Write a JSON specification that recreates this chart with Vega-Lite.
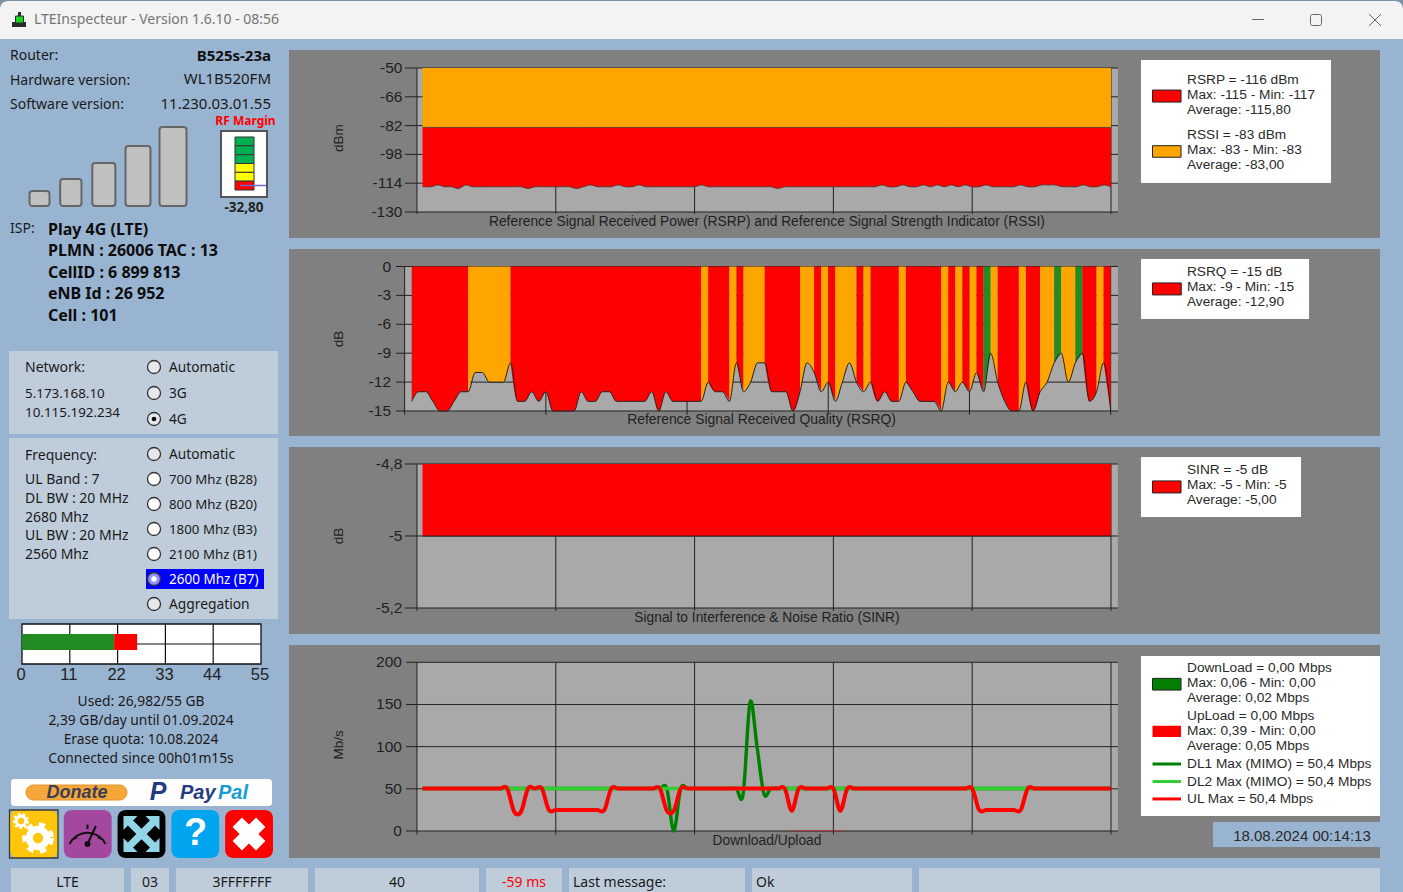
{
"$schema":"https://vega.github.io/schema/vega-lite/v6.json",
"description":"LTEInspecteur window with RSRP, RSRQ, SINR and throughput charts",
"background":"#99b4d1",
"padding":0,
"config":{"view":{"stroke":null},"text":{"font":"Noto Sans"}},
"datasets":{
"unit":[{"k":1}],
"signal":[
{"t":-0.2,"rsrp":-116,"rssi":-83,"sinr":-5},{"t":1,"rsrp":-116,"rssi":-83,"sinr":-5},{"t":2,"rsrp":-115,"rssi":-83,"sinr":-5},{"t":3,"rsrp":-116,"rssi":-83,"sinr":-5},{"t":4,"rsrp":-116,"rssi":-83,"sinr":-5},{"t":5,"rsrp":-117,"rssi":-83,"sinr":-5},{"t":6,"rsrp":-115,"rssi":-83,"sinr":-5},{"t":7,"rsrp":-116,"rssi":-83,"sinr":-5},{"t":8,"rsrp":-116,"rssi":-83,"sinr":-5},{"t":9,"rsrp":-116,"rssi":-83,"sinr":-5},
{"t":10,"rsrp":-116,"rssi":-83,"sinr":-5},{"t":11,"rsrp":-116,"rssi":-83,"sinr":-5},{"t":12,"rsrp":-116,"rssi":-83,"sinr":-5},{"t":13,"rsrp":-116,"rssi":-83,"sinr":-5},{"t":14,"rsrp":-116,"rssi":-83,"sinr":-5},{"t":15,"rsrp":-117,"rssi":-83,"sinr":-5},{"t":16,"rsrp":-116,"rssi":-83,"sinr":-5},{"t":17,"rsrp":-116,"rssi":-83,"sinr":-5},{"t":18,"rsrp":-116,"rssi":-83,"sinr":-5},{"t":19,"rsrp":-116,"rssi":-83,"sinr":-5},
{"t":20,"rsrp":-116,"rssi":-83,"sinr":-5},{"t":21,"rsrp":-116,"rssi":-83,"sinr":-5},{"t":22,"rsrp":-117,"rssi":-83,"sinr":-5},{"t":23,"rsrp":-116,"rssi":-83,"sinr":-5},{"t":24,"rsrp":-115,"rssi":-83,"sinr":-5},{"t":25,"rsrp":-116,"rssi":-83,"sinr":-5},{"t":26,"rsrp":-116,"rssi":-83,"sinr":-5},{"t":27,"rsrp":-116,"rssi":-83,"sinr":-5},{"t":28,"rsrp":-115,"rssi":-83,"sinr":-5},{"t":29,"rsrp":-116,"rssi":-83,"sinr":-5},
{"t":30,"rsrp":-116,"rssi":-83,"sinr":-5},{"t":31,"rsrp":-115,"rssi":-83,"sinr":-5},{"t":32,"rsrp":-116,"rssi":-83,"sinr":-5},{"t":33,"rsrp":-116,"rssi":-83,"sinr":-5},{"t":34,"rsrp":-116,"rssi":-83,"sinr":-5},{"t":35,"rsrp":-116,"rssi":-83,"sinr":-5},{"t":36,"rsrp":-116,"rssi":-83,"sinr":-5},{"t":37,"rsrp":-116,"rssi":-83,"sinr":-5},{"t":38,"rsrp":-116,"rssi":-83,"sinr":-5},{"t":39,"rsrp":-116,"rssi":-83,"sinr":-5},
{"t":40,"rsrp":-115,"rssi":-83,"sinr":-5},{"t":41,"rsrp":-116,"rssi":-83,"sinr":-5},{"t":42,"rsrp":-116,"rssi":-83,"sinr":-5},{"t":43,"rsrp":-116,"rssi":-83,"sinr":-5},{"t":44,"rsrp":-116,"rssi":-83,"sinr":-5},{"t":45,"rsrp":-116,"rssi":-83,"sinr":-5},{"t":46,"rsrp":-116,"rssi":-83,"sinr":-5},{"t":47,"rsrp":-116,"rssi":-83,"sinr":-5},{"t":48,"rsrp":-116,"rssi":-83,"sinr":-5},{"t":49,"rsrp":-116,"rssi":-83,"sinr":-5},
{"t":50,"rsrp":-116,"rssi":-83,"sinr":-5},{"t":51,"rsrp":-117,"rssi":-83,"sinr":-5},{"t":52,"rsrp":-116,"rssi":-83,"sinr":-5},{"t":53,"rsrp":-116,"rssi":-83,"sinr":-5},{"t":54,"rsrp":-116,"rssi":-83,"sinr":-5},{"t":55,"rsrp":-116,"rssi":-83,"sinr":-5},{"t":56,"rsrp":-116,"rssi":-83,"sinr":-5},{"t":57,"rsrp":-116,"rssi":-83,"sinr":-5},{"t":58,"rsrp":-116,"rssi":-83,"sinr":-5},{"t":59,"rsrp":-116,"rssi":-83,"sinr":-5},
{"t":60,"rsrp":-116,"rssi":-83,"sinr":-5},{"t":61,"rsrp":-116,"rssi":-83,"sinr":-5},{"t":62,"rsrp":-116,"rssi":-83,"sinr":-5},{"t":63,"rsrp":-116,"rssi":-83,"sinr":-5},{"t":64,"rsrp":-116,"rssi":-83,"sinr":-5},{"t":65,"rsrp":-116,"rssi":-83,"sinr":-5},{"t":66,"rsrp":-115,"rssi":-83,"sinr":-5},{"t":67,"rsrp":-116,"rssi":-83,"sinr":-5},{"t":68,"rsrp":-116,"rssi":-83,"sinr":-5},{"t":69,"rsrp":-115,"rssi":-83,"sinr":-5},
{"t":70,"rsrp":-116,"rssi":-83,"sinr":-5},{"t":71,"rsrp":-116,"rssi":-83,"sinr":-5},{"t":72,"rsrp":-115,"rssi":-83,"sinr":-5},{"t":73,"rsrp":-116,"rssi":-83,"sinr":-5},{"t":74,"rsrp":-115,"rssi":-83,"sinr":-5},{"t":75,"rsrp":-116,"rssi":-83,"sinr":-5},{"t":76,"rsrp":-115,"rssi":-83,"sinr":-5},{"t":77,"rsrp":-116,"rssi":-83,"sinr":-5},{"t":78,"rsrp":-115,"rssi":-83,"sinr":-5},{"t":79,"rsrp":-116,"rssi":-83,"sinr":-5},
{"t":80,"rsrp":-116,"rssi":-83,"sinr":-5},{"t":81,"rsrp":-115,"rssi":-83,"sinr":-5},{"t":82,"rsrp":-116,"rssi":-83,"sinr":-5},{"t":83,"rsrp":-116,"rssi":-83,"sinr":-5},{"t":84,"rsrp":-116,"rssi":-83,"sinr":-5},{"t":85,"rsrp":-116,"rssi":-83,"sinr":-5},{"t":86,"rsrp":-115,"rssi":-83,"sinr":-5},{"t":87,"rsrp":-116,"rssi":-83,"sinr":-5},{"t":88,"rsrp":-116,"rssi":-83,"sinr":-5},{"t":89,"rsrp":-115,"rssi":-83,"sinr":-5},
{"t":90,"rsrp":-115,"rssi":-83,"sinr":-5},{"t":91,"rsrp":-115,"rssi":-83,"sinr":-5},{"t":92,"rsrp":-116,"rssi":-83,"sinr":-5},{"t":93,"rsrp":-116,"rssi":-83,"sinr":-5},{"t":94,"rsrp":-116,"rssi":-83,"sinr":-5},{"t":95,"rsrp":-115,"rssi":-83,"sinr":-5},{"t":96,"rsrp":-116,"rssi":-83,"sinr":-5},{"t":97,"rsrp":-116,"rssi":-83,"sinr":-5},{"t":98,"rsrp":-115,"rssi":-83,"sinr":-5},{"t":99,"rsrp":-116,"rssi":-83,"sinr":-5}
],
"rsrq":[
{"t":0,"rsrq":-14},{"t":1,"rsrq":-13},{"t":2,"rsrq":-13},{"t":3,"rsrq":-14},{"t":4,"rsrq":-15},{"t":5,"rsrq":-15},{"t":6,"rsrq":-14},{"t":7,"rsrq":-13},{"t":8,"rsrq":-13},{"t":9,"rsrq":-11},
{"t":10,"rsrq":-11},{"t":11,"rsrq":-12},{"t":12,"rsrq":-12},{"t":13,"rsrq":-12},{"t":14,"rsrq":-10},{"t":15,"rsrq":-14},{"t":16,"rsrq":-14},{"t":17,"rsrq":-13},{"t":18,"rsrq":-14},{"t":19,"rsrq":-13},
{"t":20,"rsrq":-15},{"t":21,"rsrq":-15},{"t":22,"rsrq":-15},{"t":23,"rsrq":-15},{"t":24,"rsrq":-13},{"t":25,"rsrq":-14},{"t":26,"rsrq":-14},{"t":27,"rsrq":-13},{"t":28,"rsrq":-13},{"t":29,"rsrq":-14},
{"t":30,"rsrq":-14},{"t":31,"rsrq":-14},{"t":32,"rsrq":-14},{"t":33,"rsrq":-14},{"t":34,"rsrq":-13},{"t":35,"rsrq":-15},{"t":36,"rsrq":-13},{"t":37,"rsrq":-14},{"t":38,"rsrq":-14},{"t":39,"rsrq":-14},
{"t":40,"rsrq":-14},{"t":41,"rsrq":-14},{"t":42,"rsrq":-12},{"t":43,"rsrq":-13},{"t":44,"rsrq":-13},{"t":45,"rsrq":-14},{"t":46,"rsrq":-10},{"t":47,"rsrq":-13},{"t":48,"rsrq":-12},{"t":49,"rsrq":-10},
{"t":50,"rsrq":-10},{"t":51,"rsrq":-13},{"t":52,"rsrq":-13},{"t":53,"rsrq":-13},{"t":54,"rsrq":-15},{"t":55,"rsrq":-13},{"t":56,"rsrq":-10},{"t":57,"rsrq":-11},{"t":58,"rsrq":-13},{"t":59,"rsrq":-12},
{"t":60,"rsrq":-14},{"t":61,"rsrq":-12},{"t":62,"rsrq":-10},{"t":63,"rsrq":-12},{"t":64,"rsrq":-13},{"t":65,"rsrq":-12},{"t":66,"rsrq":-14},{"t":67,"rsrq":-13},{"t":68,"rsrq":-14},{"t":69,"rsrq":-14},
{"t":70,"rsrq":-12},{"t":71,"rsrq":-13},{"t":72,"rsrq":-14},{"t":73,"rsrq":-14},{"t":74,"rsrq":-14},{"t":75,"rsrq":-15},{"t":76,"rsrq":-12},{"t":77,"rsrq":-13},{"t":78,"rsrq":-12},{"t":79,"rsrq":-13},
{"t":80,"rsrq":-11},{"t":81,"rsrq":-13},{"t":82,"rsrq":-9},{"t":83,"rsrq":-12},{"t":84,"rsrq":-14},{"t":85,"rsrq":-15},{"t":86,"rsrq":-15},{"t":87,"rsrq":-12},{"t":88,"rsrq":-15},{"t":89,"rsrq":-13},
{"t":90,"rsrq":-12},{"t":91,"rsrq":-10},{"t":92,"rsrq":-9},{"t":93,"rsrq":-12},{"t":94,"rsrq":-10},{"t":95,"rsrq":-9},{"t":96,"rsrq":-14},{"t":97,"rsrq":-13},{"t":98,"rsrq":-10},{"t":99,"rsrq":-15}
],
"rsrqBands":[
{"band":1,"grade":"poor","t":[0,1,2,3,4,5,6,7,8],"rsrq":[-14,-13,-13,-14,-15,-15,-14,-13,-13]},
{"band":2,"grade":"fair","t":[8,9,10,11,12,13,14],"rsrq":[-13,-11,-11,-12,-12,-12,-10]},
{"band":3,"grade":"poor","t":[14,15,16,17,18,19,20,21,22,23,24,25,26,27,28,29,30,31,32,33,34,35,36,37,38,39,40,41],"rsrq":[-10,-14,-14,-13,-14,-13,-15,-15,-15,-15,-13,-14,-14,-13,-13,-14,-14,-14,-14,-14,-13,-15,-13,-14,-14,-14,-14,-14]},
{"band":4,"grade":"fair","t":[41,42],"rsrq":[-14,-12]},
{"band":5,"grade":"poor","t":[42,43,44,45],"rsrq":[-12,-13,-13,-14]},
{"band":6,"grade":"fair","t":[45,46],"rsrq":[-14,-10]},
{"band":7,"grade":"poor","t":[46,47],"rsrq":[-10,-13]},
{"band":8,"grade":"fair","t":[47,48,49,50],"rsrq":[-13,-12,-10,-10]},
{"band":9,"grade":"poor","t":[50,51,52,53,54,55],"rsrq":[-10,-13,-13,-13,-15,-13]},
{"band":10,"grade":"fair","t":[55,56,57],"rsrq":[-13,-10,-11]},
{"band":11,"grade":"poor","t":[57,58],"rsrq":[-11,-13]},
{"band":12,"grade":"fair","t":[58,59],"rsrq":[-13,-12]},
{"band":13,"grade":"poor","t":[59,60],"rsrq":[-12,-14]},
{"band":14,"grade":"fair","t":[60,61,62,63],"rsrq":[-14,-12,-10,-12]},
{"band":15,"grade":"poor","t":[63,64],"rsrq":[-12,-13]},
{"band":16,"grade":"fair","t":[64,65],"rsrq":[-13,-12]},
{"band":17,"grade":"poor","t":[65,66,67,68,69],"rsrq":[-12,-14,-13,-14,-14]},
{"band":18,"grade":"fair","t":[69,70],"rsrq":[-14,-12]},
{"band":19,"grade":"poor","t":[70,71,72,73,74,75],"rsrq":[-12,-13,-14,-14,-14,-15]},
{"band":20,"grade":"fair","t":[75,76],"rsrq":[-15,-12]},
{"band":21,"grade":"poor","t":[76,77],"rsrq":[-12,-13]},
{"band":22,"grade":"fair","t":[77,78],"rsrq":[-13,-12]},
{"band":23,"grade":"poor","t":[78,79],"rsrq":[-12,-13]},
{"band":24,"grade":"fair","t":[79,80],"rsrq":[-13,-11]},
{"band":25,"grade":"poor","t":[80,81],"rsrq":[-11,-13]},
{"band":26,"grade":"good","t":[81,82],"rsrq":[-13,-9]},
{"band":27,"grade":"fair","t":[82,83],"rsrq":[-9,-12]},
{"band":28,"grade":"poor","t":[83,84,85,86],"rsrq":[-12,-14,-15,-15]},
{"band":29,"grade":"fair","t":[86,87],"rsrq":[-15,-12]},
{"band":30,"grade":"poor","t":[87,88,89],"rsrq":[-12,-15,-13]},
{"band":31,"grade":"fair","t":[89,90,91],"rsrq":[-13,-12,-10]},
{"band":32,"grade":"good","t":[91,92],"rsrq":[-10,-9]},
{"band":33,"grade":"fair","t":[92,93,94],"rsrq":[-9,-12,-10]},
{"band":34,"grade":"good","t":[94,95],"rsrq":[-10,-9]},
{"band":35,"grade":"poor","t":[95,96,97],"rsrq":[-9,-14,-13]},
{"band":36,"grade":"fair","t":[97,98],"rsrq":[-13,-10]},
{"band":37,"grade":"poor","t":[98,99],"rsrq":[-10,-15]}
],
"traffic":[
{"t":-0.2,"dl1":50.4,"dl2":50.4,"ul":50.4},{"t":1,"dl1":50.4,"dl2":50.4,"ul":50.4},{"t":2,"dl1":50.4,"dl2":50.4,"ul":50.4},{"t":3,"dl1":50.4,"dl2":50.4,"ul":50.4},{"t":4,"dl1":50.4,"dl2":50.4,"ul":50.4},{"t":5,"dl1":50.4,"dl2":50.4,"ul":50.4},{"t":6,"dl1":50.4,"dl2":50.4,"ul":50.4},{"t":7,"dl1":50.4,"dl2":50.4,"ul":50.4},{"t":8,"dl1":50.4,"dl2":50.4,"ul":50.4},{"t":9,"dl1":50.4,"dl2":50.4,"ul":50.4},
{"t":10,"dl1":50.4,"dl2":50.4,"ul":50.4},{"t":11,"dl1":50.4,"dl2":50.4,"ul":50.4},{"t":12,"dl1":50.4,"dl2":50.4,"ul":50.4},{"t":13,"dl1":50.4,"dl2":50.4,"ul":23},{"t":14,"dl1":50.4,"dl2":50.4,"ul":23},{"t":15,"dl1":50.4,"dl2":50.4,"ul":50.4},{"t":16,"dl1":50.4,"dl2":50.4,"ul":50.4},{"t":17,"dl1":50.4,"dl2":50.4,"ul":50.4},{"t":18,"dl1":50.4,"dl2":50.4,"ul":25},{"t":19,"dl1":50.4,"dl2":50.4,"ul":25},
{"t":20,"dl1":50.4,"dl2":50.4,"ul":25},{"t":21,"dl1":50.4,"dl2":50.4,"ul":25},{"t":22,"dl1":50.4,"dl2":50.4,"ul":25},{"t":23,"dl1":50.4,"dl2":50.4,"ul":25},{"t":24,"dl1":50.4,"dl2":50.4,"ul":25},{"t":25,"dl1":50.4,"dl2":50.4,"ul":25},{"t":26,"dl1":50.4,"dl2":50.4,"ul":25},{"t":27,"dl1":50.4,"dl2":50.4,"ul":50.4},{"t":28,"dl1":50.4,"dl2":50.4,"ul":50.4},{"t":29,"dl1":50.4,"dl2":50.4,"ul":50.4},
{"t":30,"dl1":50.4,"dl2":50.4,"ul":50.4},{"t":31,"dl1":50.4,"dl2":50.4,"ul":50.4},{"t":32,"dl1":50.4,"dl2":50.4,"ul":50.4},{"t":33,"dl1":50.4,"dl2":50.4,"ul":50.4},{"t":34,"dl1":50.4,"dl2":50.4,"ul":50.4},{"t":35,"dl1":50.4,"dl2":50.4,"ul":24},{"t":36,"dl1":0,"dl2":50.4,"ul":24},{"t":37,"dl1":50.4,"dl2":50.4,"ul":50.4},{"t":38,"dl1":50.4,"dl2":50.4,"ul":50.4},{"t":39,"dl1":50.4,"dl2":50.4,"ul":50.4},
{"t":40,"dl1":50.4,"dl2":50.4,"ul":50.4},{"t":41,"dl1":50.4,"dl2":50.4,"ul":50.4},{"t":42,"dl1":50.4,"dl2":50.4,"ul":50.4},{"t":43,"dl1":50.4,"dl2":50.4,"ul":50.4},{"t":44,"dl1":50.4,"dl2":50.4,"ul":50.4},{"t":45,"dl1":50.4,"dl2":50.4,"ul":50.4},{"t":46,"dl1":44,"dl2":50.4,"ul":50.4},{"t":47,"dl1":153,"dl2":50.4,"ul":50.4},{"t":48,"dl1":100,"dl2":50.4,"ul":50.4},{"t":49,"dl1":44,"dl2":50.4,"ul":50.4},
{"t":50,"dl1":50.4,"dl2":50.4,"ul":50.4},{"t":51,"dl1":50.4,"dl2":50.4,"ul":50.4},{"t":52,"dl1":50.4,"dl2":50.4,"ul":50.4},{"t":53,"dl1":50.4,"dl2":50.4,"ul":24},{"t":54,"dl1":50.4,"dl2":50.4,"ul":50.4},{"t":55,"dl1":50.4,"dl2":50.4,"ul":50.4},{"t":56,"dl1":50.4,"dl2":50.4,"ul":50.4},{"t":57,"dl1":50.4,"dl2":50.4,"ul":50.4},{"t":58,"dl1":50.4,"dl2":50.4,"ul":50.4},{"t":59,"dl1":50.4,"dl2":50.4,"ul":50.4},
{"t":60,"dl1":50.4,"dl2":50.4,"ul":24},{"t":61,"dl1":50.4,"dl2":50.4,"ul":50.4},{"t":62,"dl1":50.4,"dl2":50.4,"ul":50.4},{"t":63,"dl1":50.4,"dl2":50.4,"ul":50.4},{"t":64,"dl1":50.4,"dl2":50.4,"ul":50.4},{"t":65,"dl1":50.4,"dl2":50.4,"ul":50.4},{"t":66,"dl1":50.4,"dl2":50.4,"ul":50.4},{"t":67,"dl1":50.4,"dl2":50.4,"ul":50.4},{"t":68,"dl1":50.4,"dl2":50.4,"ul":50.4},{"t":69,"dl1":50.4,"dl2":50.4,"ul":50.4},
{"t":70,"dl1":50.4,"dl2":50.4,"ul":50.4},{"t":71,"dl1":50.4,"dl2":50.4,"ul":50.4},{"t":72,"dl1":50.4,"dl2":50.4,"ul":50.4},{"t":73,"dl1":50.4,"dl2":50.4,"ul":50.4},{"t":74,"dl1":50.4,"dl2":50.4,"ul":50.4},{"t":75,"dl1":50.4,"dl2":50.4,"ul":50.4},{"t":76,"dl1":50.4,"dl2":50.4,"ul":50.4},{"t":77,"dl1":50.4,"dl2":50.4,"ul":50.4},{"t":78,"dl1":50.4,"dl2":50.4,"ul":50.4},{"t":79,"dl1":50.4,"dl2":50.4,"ul":50.4},
{"t":80,"dl1":50.4,"dl2":50.4,"ul":25},{"t":81,"dl1":50.4,"dl2":50.4,"ul":25},{"t":82,"dl1":50.4,"dl2":50.4,"ul":25},{"t":83,"dl1":50.4,"dl2":50.4,"ul":25},{"t":84,"dl1":50.4,"dl2":50.4,"ul":25},{"t":85,"dl1":50.4,"dl2":50.4,"ul":25},{"t":86,"dl1":50.4,"dl2":50.4,"ul":25},{"t":87,"dl1":50.4,"dl2":50.4,"ul":50.4},{"t":88,"dl1":50.4,"dl2":50.4,"ul":50.4},{"t":89,"dl1":50.4,"dl2":50.4,"ul":50.4},
{"t":90,"dl1":50.4,"dl2":50.4,"ul":50.4},{"t":91,"dl1":50.4,"dl2":50.4,"ul":50.4},{"t":92,"dl1":50.4,"dl2":50.4,"ul":50.4},{"t":93,"dl1":50.4,"dl2":50.4,"ul":50.4},{"t":94,"dl1":50.4,"dl2":50.4,"ul":50.4},{"t":95,"dl1":50.4,"dl2":50.4,"ul":50.4},{"t":96,"dl1":50.4,"dl2":50.4,"ul":50.4},{"t":97,"dl1":50.4,"dl2":50.4,"ul":50.4},{"t":98,"dl1":50.4,"dl2":50.4,"ul":50.4},{"t":99,"dl1":50.4,"dl2":50.4,"ul":50.4}
],
"gridTimes":[{"t":-1},{"t":19},{"t":39},{"t":59},{"t":79},{"t":99}]
},
"spacing":5,
"vconcat":[
{"width":1403,"height":42,
"layer":[
{"data":{"name":"unit"},"mark":{"type":"rect","fill":"#7d93a8"},"encoding":{"x":{"datum":0,"type":"quantitative","axis":null,"scale":{"domain":[0,1403],"nice":false}},"x2":{"datum":1403},"y":{"datum":0,"type":"quantitative","axis":null,"scale":{"domain":[0,42],"range":[0,42],"nice":false}},"y2":{"datum":12}}},
{"data":{"name":"unit"},"mark":{"type":"rect","fill":"#f3f3f3","cornerRadiusTopRight":8,"cornerRadiusTopLeft":8},"encoding":{"x":{"datum":0,"type":"quantitative","axis":null},"x2":{"datum":1403},"y":{"datum":1,"type":"quantitative","axis":null},"y2":{"datum":39}}},
{"data":{"name":"unit"},"mark":{"type":"rect","fill":"#2b2b2b"},"encoding":{"x":{"datum":12,"type":"quantitative","axis":null},"x2":{"datum":26},"y":{"datum":22,"type":"quantitative","axis":null},"y2":{"datum":27}}},
{"data":{"name":"unit"},"mark":{"type":"rect","fill":"#2b2b2b"},"encoding":{"x":{"datum":18,"type":"quantitative","axis":null},"x2":{"datum":21},"y":{"datum":12,"type":"quantitative","axis":null},"y2":{"datum":17}}},
{"data":{"name":"unit"},"mark":{"type":"rect","fill":"#19d419","stroke":"#2b2b2b"},"encoding":{"x":{"datum":15.5,"type":"quantitative","axis":null},"x2":{"datum":23.5},"y":{"datum":16,"type":"quantitative","axis":null},"y2":{"datum":23}}},
{"data":{"values":[{"label":"LTEInspecteur - Version 1.6.10 - 08:56"}]},"mark":{"type":"text","align":"left","fontSize":14,"color":"#747474"},"encoding":{"x":{"datum":34,"type":"quantitative","axis":null},"y":{"datum":20,"type":"quantitative","axis":null},"text":{"field":"label"}}},
{"data":{"name":"unit"},"mark":{"type":"rule","stroke":"#666666"},"encoding":{"x":{"datum":1252,"type":"quantitative","axis":null},"x2":{"datum":1264},"y":{"datum":19.5,"type":"quantitative","axis":null}}},
{"data":{"name":"unit"},"mark":{"type":"rect","filled":false,"stroke":"#666666","cornerRadius":2},"encoding":{"x":{"datum":1310.5,"type":"quantitative","axis":null},"x2":{"datum":1321.5},"y":{"datum":14.5,"type":"quantitative","axis":null},"y2":{"datum":25.5}}},
{"data":{"name":"unit"},"mark":{"type":"rule","stroke":"#666666"},"encoding":{"x":{"datum":1369,"type":"quantitative","axis":null},"x2":{"datum":1381},"y":{"datum":14,"type":"quantitative","axis":null},"y2":{"datum":26}}},
{"data":{"name":"unit"},"mark":{"type":"rule","stroke":"#666666"},"encoding":{"x":{"datum":1369,"type":"quantitative","axis":null},"x2":{"datum":1381},"y":{"datum":26,"type":"quantitative","axis":null},"y2":{"datum":14}}}
]},
{"spacing":11,"hconcat":[
{"width":278,"height":808,
"resolve":{"scale":{"x":"independent","y":"independent","color":"independent","size":"independent","fill":"independent"}},
"layer":[
{"data":{"name":"unit"},"mark":{"type":"rect","fill":"#99b4d1","opacity":0},"encoding":{"x":{"datum":1,"type":"quantitative","axis":null,"scale":{"domain":[0,278],"nice":false}},"x2":{"datum":2},"y":{"datum":-3,"type":"quantitative","axis":null,"scale":{"domain":[0,808],"range":[0,808],"nice":false}},"y2":{"datum":811}}},
{"data":{"values":[{"label":"Router:"},{"label":"Hardware version:"},{"label":"Software version:"}]},"mark":{"type":"text","align":"left","fontSize":14,"color":"#1a1a1a"},"encoding":{"x":{"datum":10,"type":"quantitative","axis":null,"scale":{"domain":[0,278],"nice":false}},"y":{"field":"label","type":"nominal","sort":null,"axis":null,"scale":{"type":"point","padding":0,"range":[6,55]}},"text":{"field":"label"}}},
{"data":{"values":[{"label":"B525s-23a"}]},"mark":{"type":"text","align":"right","fontSize":15,"fontWeight":"bold","color":"#111111"},"encoding":{"x":{"datum":271,"type":"quantitative","axis":null,"scale":{"domain":[0,278],"nice":false}},"y":{"field":"label","type":"nominal","axis":null,"scale":{"type":"point","padding":0,"range":[5.5,5.5]}},"text":{"field":"label"}}},
{"data":{"values":[{"label":"WL1B520FM"},{"label":"11.230.03.01.55"}]},"mark":{"type":"text","align":"right","fontSize":15,"color":"#1a1a1a"},"encoding":{"x":{"datum":271,"type":"quantitative","axis":null,"scale":{"domain":[0,278],"nice":false}},"y":{"field":"label","type":"nominal","sort":null,"axis":null,"scale":{"type":"point","padding":0,"range":[29,54]}},"text":{"field":"label"}}},
{"data":{"values":[{"bar":1,"level":15},{"bar":2,"level":27},{"bar":3,"level":43},{"bar":4,"level":60},{"bar":5,"level":79}]},"mark":{"type":"bar","orient":"vertical","fill":"#c0c0c0","stroke":"#666666","strokeWidth":2,"cornerRadius":3},"encoding":{"x":{"field":"bar","type":"quantitative","axis":null,"scale":{"type":"pow","exponent":1.1,"domain":[1,5],"range":[39.5,173],"nice":false,"padding":0}},"y":{"field":"level","type":"quantitative","axis":null,"scale":{"domain":[0,79],"range":[156,77],"nice":false}},"size":{"field":"level","type":"quantitative","legend":null,"scale":{"domain":[15,79],"range":[20,27],"zero":false}}}},
{"data":{"values":[{"label":"RF Margin"}]},"mark":{"type":"text","fontSize":12,"fontWeight":"bold","color":"#ff0000"},"encoding":{"x":{"datum":245.5,"type":"quantitative","axis":null,"scale":{"domain":[0,278],"nice":false}},"y":{"field":"label","type":"nominal","axis":null,"scale":{"type":"point","padding":0,"range":[71,71]}},"text":{"field":"label"}}},
{"data":{"name":"unit"},"mark":{"type":"rect","fill":"#ffffff","stroke":"#555555","strokeWidth":2},"encoding":{"x":{"datum":221,"type":"quantitative","axis":null,"scale":{"domain":[0,278],"nice":false}},"x2":{"datum":267},"y":{"datum":81,"type":"quantitative","axis":null,"scale":{"domain":[0,808],"range":[0,808],"nice":false}},"y2":{"datum":147}}},
{"data":{"values":[{"cell":1,"grade":"good"},{"cell":2,"grade":"good"},{"cell":3,"grade":"good"},{"cell":4,"grade":"fair"},{"cell":5,"grade":"fair"},{"cell":6,"grade":"poor"}]},"mark":{"type":"rect","stroke":"#333333"},"encoding":{"x":{"datum":235,"type":"quantitative","axis":null,"scale":{"domain":[0,278],"nice":false}},"x2":{"datum":254},"y":{"field":"cell","type":"ordinal","axis":null,"scale":{"type":"band","padding":0,"range":[87,140]}},"color":{"field":"grade","type":"nominal","legend":null,"scale":{"domain":["good","fair","poor"],"range":["#00b050","#ffff00","#ff0000"]}}}},
{"data":{"name":"unit"},"mark":{"type":"rule","stroke":"#6a6ad0","strokeWidth":1.5},"encoding":{"x":{"datum":240,"type":"quantitative","axis":null,"scale":{"domain":[0,278],"nice":false}},"x2":{"datum":266},"y":{"datum":135.5,"type":"quantitative","axis":null,"scale":{"domain":[0,808],"range":[0,808],"nice":false}}}},
{"data":{"values":[{"label":"-32,80"}]},"mark":{"type":"text","fontSize":13.5,"fontWeight":"bold","color":"#222222"},"encoding":{"x":{"datum":244,"type":"quantitative","axis":null,"scale":{"domain":[0,278],"nice":false}},"y":{"field":"label","type":"nominal","axis":null,"scale":{"type":"point","padding":0,"range":[158,158]}},"text":{"field":"label"}}},
{"data":{"values":[{"label":"ISP:"}]},"mark":{"type":"text","align":"left","fontSize":14,"color":"#1a1a1a"},"encoding":{"x":{"datum":10,"type":"quantitative","axis":null,"scale":{"domain":[0,278],"nice":false}},"y":{"field":"label","type":"nominal","axis":null,"scale":{"type":"point","padding":0,"range":[179,179]}},"text":{"field":"label"}}},
{"data":{"values":[{"label":"Play 4G (LTE)"},{"label":"PLMN : 26006 TAC : 13"},{"label":"CellID : 6 899 813"},{"label":"eNB Id : 26 952"},{"label":"Cell : 101"}]},"mark":{"type":"text","align":"left","fontSize":16,"fontWeight":"bold","color":"#0d0d0d"},"encoding":{"x":{"datum":48,"type":"quantitative","axis":null,"scale":{"domain":[0,278],"nice":false}},"y":{"field":"label","type":"nominal","sort":null,"axis":null,"scale":{"type":"point","padding":0,"range":[180,265.5]}},"text":{"field":"label"}}},
{"data":{"name":"unit"},"mark":{"type":"rect","fill":"#bfcddb"},"encoding":{"x":{"datum":9,"type":"quantitative","axis":null,"scale":{"domain":[0,278],"nice":false}},"x2":{"datum":278},"y":{"datum":301,"type":"quantitative","axis":null,"scale":{"domain":[0,808],"range":[0,808],"nice":false}},"y2":{"datum":384}}},
{"data":{"name":"unit"},"mark":{"type":"rect","fill":"#bfcddb"},"encoding":{"x":{"datum":9,"type":"quantitative","axis":null,"scale":{"domain":[0,278],"nice":false}},"x2":{"datum":278},"y":{"datum":388,"type":"quantitative","axis":null,"scale":{"domain":[0,808],"range":[0,808],"nice":false}},"y2":{"datum":569}}},
{"data":{"values":[{"label":"Network:"},{"label":"Frequency:"}]},"mark":{"type":"text","align":"left","fontSize":14,"color":"#1a1a1a"},"encoding":{"x":{"datum":25,"type":"quantitative","axis":null,"scale":{"domain":[0,278],"nice":false}},"y":{"field":"label","type":"nominal","sort":null,"axis":null,"scale":{"type":"point","padding":0,"range":[318,406]}},"text":{"field":"label"}}},
{"data":{"values":[{"label":"5.173.168.10"},{"label":"10.115.192.234"}]},"mark":{"type":"text","align":"left","fontSize":13.4,"color":"#1a1a1a"},"encoding":{"x":{"datum":25,"type":"quantitative","axis":null,"scale":{"domain":[0,278],"nice":false}},"y":{"field":"label","type":"nominal","sort":null,"axis":null,"scale":{"type":"point","padding":0,"range":[344,363]}},"text":{"field":"label"}}},
{"data":{"values":[{"label":"UL Band : 7"},{"label":"DL BW : 20 MHz"},{"label":"2680 Mhz"},{"label":"UL BW : 20 MHz"},{"label":"2560 Mhz"}]},"mark":{"type":"text","align":"left","fontSize":14,"color":"#1a1a1a"},"encoding":{"x":{"datum":25,"type":"quantitative","axis":null,"scale":{"domain":[0,278],"nice":false}},"y":{"field":"label","type":"nominal","sort":null,"axis":null,"scale":{"type":"point","padding":0,"range":[430,505]}},"text":{"field":"label"}}},
{"data":{"values":[{"option":"Automatic","state":"off"},{"option":"3G","state":"off"},{"option":"4G","state":"off"}]},"mark":{"type":"point","shape":"circle","filled":true,"size":170,"opacity":1,"stroke":"#333333","strokeWidth":1.3},"encoding":{"x":{"datum":154,"type":"quantitative","axis":null,"scale":{"domain":[0,278],"nice":false}},"y":{"field":"option","type":"nominal","sort":null,"axis":null,"scale":{"type":"point","padding":0,"range":[317,369]}},"fill":{"field":"state","type":"nominal","legend":null,"scale":{"domain":["off","on","picked"],"range":["#e6e8eb","#ffffff","#8f8fff"]}}}},
{"data":{"values":[{"option":"4G"}]},"mark":{"type":"point","shape":"circle","filled":true,"size":22,"opacity":1,"color":"#111111"},"encoding":{"x":{"datum":154,"type":"quantitative","axis":null,"scale":{"domain":[0,278],"nice":false}},"y":{"field":"option","type":"nominal","axis":null,"scale":{"type":"point","padding":0,"range":[369,369]}}}},
{"data":{"values":[{"option":"Automatic"},{"option":"3G"},{"option":"4G"}]},"mark":{"type":"text","align":"left","fontSize":13.7,"color":"#1a1a1a"},"encoding":{"x":{"datum":169,"type":"quantitative","axis":null,"scale":{"domain":[0,278],"nice":false}},"y":{"field":"option","type":"nominal","sort":null,"axis":null,"scale":{"type":"point","padding":0,"range":[318,370]}},"text":{"field":"option"}}},
{"data":{"name":"unit"},"mark":{"type":"rect","fill":"#0000ff"},"encoding":{"x":{"datum":146,"type":"quantitative","axis":null,"scale":{"domain":[0,278],"nice":false}},"x2":{"datum":264},"y":{"datum":519,"type":"quantitative","axis":null,"scale":{"domain":[0,808],"range":[0,808],"nice":false}},"y2":{"datum":539}}},
{"data":{"values":[{"option":"Automatic","state":"off"},{"option":"700 Mhz (B28)","state":"on"},{"option":"800 Mhz (B20)","state":"on"},{"option":"1800 Mhz (B3)","state":"on"},{"option":"2100 Mhz (B1)","state":"on"},{"option":"2600 Mhz (B7)","state":"picked"},{"option":"Aggregation","state":"off"}]},"mark":{"type":"point","shape":"circle","filled":true,"size":170,"opacity":1,"stroke":"#333333","strokeWidth":1.3},"encoding":{"x":{"datum":154,"type":"quantitative","axis":null,"scale":{"domain":[0,278],"nice":false}},"y":{"field":"option","type":"nominal","sort":null,"axis":null,"scale":{"type":"point","padding":0,"range":[404,554]}},"fill":{"field":"state","type":"nominal","legend":null,"scale":{"domain":["off","on","picked"],"range":["#e6e8eb","#ffffff","#8f8fff"]}}}},
{"data":{"values":[{"option":"2600 Mhz (B7)"}]},"mark":{"type":"point","shape":"circle","filled":true,"size":30,"opacity":1,"color":"#ffffff"},"encoding":{"x":{"datum":154,"type":"quantitative","axis":null,"scale":{"domain":[0,278],"nice":false}},"y":{"field":"option","type":"nominal","axis":null,"scale":{"type":"point","padding":0,"range":[529,529]}}}},
{"data":{"values":[{"option":"Automatic"}]},"mark":{"type":"text","align":"left","fontSize":13.7,"color":"#1a1a1a"},"encoding":{"x":{"datum":169,"type":"quantitative","axis":null,"scale":{"domain":[0,278],"nice":false}},"y":{"field":"option","type":"nominal","axis":null,"scale":{"type":"point","padding":0,"range":[405,405]}},"text":{"field":"option"}}},
{"data":{"values":[{"option":"700 Mhz (B28)"},{"option":"800 Mhz (B20)"},{"option":"1800 Mhz (B3)"},{"option":"2100 Mhz (B1)"}]},"mark":{"type":"text","align":"left","fontSize":13.3,"color":"#1a1a1a"},"encoding":{"x":{"datum":169,"type":"quantitative","axis":null,"scale":{"domain":[0,278],"nice":false}},"y":{"field":"option","type":"nominal","sort":null,"axis":null,"scale":{"type":"point","padding":0,"range":[430,505]}},"text":{"field":"option"}}},
{"data":{"values":[{"option":"2600 Mhz (B7)"}]},"mark":{"type":"text","align":"left","fontSize":13.5,"color":"#ffffff"},"encoding":{"x":{"datum":169,"type":"quantitative","axis":null,"scale":{"domain":[0,278],"nice":false}},"y":{"field":"option","type":"nominal","axis":null,"scale":{"type":"point","padding":0,"range":[530,530]}},"text":{"field":"option"}}},
{"data":{"values":[{"option":"Aggregation"}]},"mark":{"type":"text","align":"left","fontSize":13.8,"color":"#1a1a1a"},"encoding":{"x":{"datum":169,"type":"quantitative","axis":null,"scale":{"domain":[0,278],"nice":false}},"y":{"field":"option","type":"nominal","axis":null,"scale":{"type":"point","padding":0,"range":[555,555]}},"text":{"field":"option"}}},
{"data":{"name":"unit"},"mark":{"type":"rect","fill":"#ffffff","stroke":"#111111","strokeWidth":1.3},"encoding":{"x":{"datum":0,"type":"quantitative","axis":null,"scale":{"domain":[0,55],"range":[22,261],"nice":false}},"x2":{"datum":55},"y":{"datum":0,"type":"quantitative","axis":null,"scale":{"domain":[0,1],"range":[614,574],"nice":false}},"y2":{"datum":1}}},
{"data":{"values":[{"gb":11},{"gb":22},{"gb":33},{"gb":44}]},"mark":{"type":"rule","stroke":"#111111","strokeWidth":1.2},"encoding":{"x":{"field":"gb","type":"quantitative","axis":null,"scale":{"domain":[0,55],"range":[22,261],"nice":false}},"y":{"datum":0,"type":"quantitative","axis":null,"scale":{"domain":[0,1],"range":[614,574],"nice":false}},"y2":{"datum":1}}},
{"data":{"name":"unit"},"mark":{"type":"rule","stroke":"#111111","strokeWidth":1.2},"encoding":{"x":{"datum":0,"type":"quantitative","axis":null,"scale":{"domain":[0,55],"range":[22,261],"nice":false}},"x2":{"datum":55},"y":{"datum":0.5,"type":"quantitative","axis":null,"scale":{"domain":[0,1],"range":[614,574],"nice":false}}}},
{"data":{"values":[{"segment":"included","from":0,"to":21.2},{"segment":"over","from":21.2,"to":26.5}]},"mark":{"type":"rect"},"encoding":{"x":{"field":"from","type":"quantitative","axis":null,"scale":{"domain":[0,55],"range":[22,261],"nice":false}},"x2":{"field":"to"},"y":{"datum":0.35,"type":"quantitative","axis":null,"scale":{"domain":[0,1],"range":[614,574],"nice":false}},"y2":{"datum":0.75},"color":{"field":"segment","type":"nominal","legend":null,"scale":{"domain":["included","over"],"range":["#228b22","#ff0000"]}}}},
{"data":{"values":[{"gb":0},{"gb":11},{"gb":22},{"gb":33},{"gb":44},{"gb":55}]},"mark":{"type":"text","font":"Liberation Sans","fontSize":16.5,"color":"#222222"},"encoding":{"x":{"field":"gb","type":"quantitative","axis":null,"scale":{"domain":[0,55],"range":[21,260],"nice":false}},"y":{"datum":0,"type":"quantitative","axis":null,"scale":{"domain":[0,1],"range":[625,625],"nice":false}},"text":{"field":"gb","type":"quantitative","format":"d"}}},
{"data":{"values":[{"label":"Used: 26,982/55 GB"},{"label":"2,39 GB/day until 01.09.2024"},{"label":"Erase quota: 10.08.2024"},{"label":"Connected since 00h01m15s"}]},"mark":{"type":"text","fontSize":13.8,"color":"#1a1a1a"},"encoding":{"x":{"datum":141,"type":"quantitative","axis":null,"scale":{"domain":[0,278],"nice":false}},"y":{"field":"label","type":"nominal","sort":null,"axis":null,"scale":{"type":"point","padding":0,"range":[652,709]}},"text":{"field":"label"}}},
{"data":{"name":"unit"},"mark":{"type":"rect","fill":"#ffffff","cornerRadius":3},"encoding":{"x":{"datum":11,"type":"quantitative","axis":null,"scale":{"domain":[0,278],"nice":false}},"x2":{"datum":272},"y":{"datum":729,"type":"quantitative","axis":null,"scale":{"domain":[0,808],"range":[0,808],"nice":false}},"y2":{"datum":756}}},
{"data":{"name":"unit"},"mark":{"type":"rect","fill":"#f5a73a","stroke":"#e2952b","cornerRadius":7.5},"encoding":{"x":{"datum":26,"type":"quantitative","axis":null,"scale":{"domain":[0,278],"nice":false}},"x2":{"datum":127},"y":{"datum":735,"type":"quantitative","axis":null,"scale":{"domain":[0,808],"range":[0,808],"nice":false}},"y2":{"datum":750}}},
{"data":{"values":[{"label":"Donate"}]},"mark":{"type":"text","font":"Liberation Sans","fontSize":18,"fontWeight":"bold","fontStyle":"italic","color":"#3a3f55"},"encoding":{"x":{"datum":77,"type":"quantitative","axis":null,"scale":{"domain":[0,278],"nice":false}},"y":{"field":"label","type":"nominal","axis":null,"scale":{"type":"point","padding":0,"range":[743,743]}},"text":{"field":"label"}}},
{"data":{"values":[{"label":"P"}]},"mark":{"type":"text","font":"Liberation Sans","fontSize":25,"fontWeight":"bold","fontStyle":"italic","color":"#253b80"},"encoding":{"x":{"datum":158,"type":"quantitative","axis":null,"scale":{"domain":[0,278],"nice":false}},"y":{"field":"label","type":"nominal","axis":null,"scale":{"type":"point","padding":0,"range":[742,742]}},"text":{"field":"label"}}},
{"data":{"values":[{"label":"Pay"}]},"mark":{"type":"text","font":"Liberation Sans","align":"left","fontSize":20,"fontWeight":"bold","fontStyle":"italic","color":"#253b80"},"encoding":{"x":{"datum":180,"type":"quantitative","axis":null,"scale":{"domain":[0,278],"nice":false}},"y":{"field":"label","type":"nominal","axis":null,"scale":{"type":"point","padding":0,"range":[743,743]}},"text":{"field":"label"}}},
{"data":{"values":[{"label":"Pal"}]},"mark":{"type":"text","font":"Liberation Sans","align":"left","fontSize":20,"fontWeight":"bold","fontStyle":"italic","color":"#179bd7"},"encoding":{"x":{"datum":218,"type":"quantitative","axis":null,"scale":{"domain":[0,278],"nice":false}},"y":{"field":"label","type":"nominal","axis":null,"scale":{"type":"point","padding":0,"range":[743,743]}},"text":{"field":"label"}}},
{"data":{"values":[{"button":"settings"},{"button":"meter"},{"button":"expand"},{"button":"help"},{"button":"quit"}]},"mark":{"type":"rect","cornerRadius":8},"encoding":{"x":{"field":"button","type":"nominal","sort":null,"axis":null,"scale":{"type":"band","paddingInner":0.11,"paddingOuter":0,"range":[10,273]}},"y":{"datum":760,"type":"quantitative","axis":null,"scale":{"domain":[0,808],"range":[0,808],"nice":false}},"y2":{"datum":808},"color":{"field":"button","type":"nominal","sort":null,"legend":null,"scale":{"domain":["settings","meter","expand","help","quit"],"range":["#ffc60b","#a4479f","#000000","#00a4ef","#ff0000"]}}}},
{"data":{"name":"unit"},"mark":{"type":"rect","filled":false,"stroke":"#3a3a3a","strokeWidth":1.3},"encoding":{"x":{"datum":9.5,"type":"quantitative","axis":null,"scale":{"domain":[0,278],"nice":false}},"x2":{"datum":58},"y":{"datum":760,"type":"quantitative","axis":null,"scale":{"domain":[0,808],"range":[0,808],"nice":false}},"y2":{"datum":808}}},
{"data":{"name":"unit"},"mark":{"type":"point","shape":"circle","filled":false,"size":660,"opacity":1,"stroke":"#ffffff","strokeWidth":6,"strokeDash":[6,6.2]},"encoding":{"x":{"datum":38,"type":"quantitative","axis":null,"scale":{"domain":[0,278],"nice":false}},"y":{"datum":788,"type":"quantitative","axis":null,"scale":{"domain":[0,808],"range":[0,808],"nice":false}}}},
{"data":{"name":"unit"},"mark":{"type":"point","shape":"circle","filled":false,"size":300,"opacity":1,"stroke":"#ffffff","strokeWidth":7},"encoding":{"x":{"datum":38,"type":"quantitative","axis":null,"scale":{"domain":[0,278],"nice":false}},"y":{"datum":788,"type":"quantitative","axis":null,"scale":{"domain":[0,808],"range":[0,808],"nice":false}}}},
{"data":{"name":"unit"},"mark":{"type":"point","shape":"circle","filled":false,"size":170,"opacity":1,"stroke":"#ffffff","strokeWidth":3,"strokeDash":[2.5,2]},"encoding":{"x":{"datum":21,"type":"quantitative","axis":null,"scale":{"domain":[0,278],"nice":false}},"y":{"datum":771,"type":"quantitative","axis":null,"scale":{"domain":[0,808],"range":[0,808],"nice":false}}}},
{"data":{"name":"unit"},"mark":{"type":"point","shape":"circle","filled":false,"size":90,"opacity":1,"stroke":"#ffffff","strokeWidth":3},"encoding":{"x":{"datum":21,"type":"quantitative","axis":null,"scale":{"domain":[0,278],"nice":false}},"y":{"datum":771,"type":"quantitative","axis":null,"scale":{"domain":[0,808],"range":[0,808],"nice":false}}}},
{"data":{"name":"unit"},"mark":{"type":"point","filled":false,"size":1600,"opacity":1,"stroke":"#111111","strokeWidth":2,"shape":"M-0.9 0.45 A1 1 0 0 1 0.9 0.45 M0 0.45 L0.42 -0.45 M-0.72 0.2 L-0.52 0.1 M0 -0.52 L0 -0.3 M0.72 0.2 L0.52 0.1"},"encoding":{"x":{"datum":87.5,"type":"quantitative","axis":null,"scale":{"domain":[0,278],"nice":false}},"y":{"datum":785,"type":"quantitative","axis":null,"scale":{"domain":[0,808],"range":[0,808],"nice":false}}}},
{"data":{"name":"unit"},"mark":{"type":"point","filled":true,"size":36,"opacity":1,"color":"#111111","shape":"circle"},"encoding":{"x":{"datum":87.5,"type":"quantitative","axis":null,"scale":{"domain":[0,278],"nice":false}},"y":{"datum":794,"type":"quantitative","axis":null,"scale":{"domain":[0,808],"range":[0,808],"nice":false}}}},
{"data":{"name":"unit"},"mark":{"type":"point","filled":true,"size":1600,"opacity":1,"color":"#93d5e8","shape":"M-0.9 -0.9 L-0.2 -0.9 L-0.42 -0.68 L0 -0.26 L0.42 -0.68 L0.2 -0.9 L0.9 -0.9 L0.9 -0.2 L0.68 -0.42 L0.26 0 L0.68 0.42 L0.9 0.2 L0.9 0.9 L0.2 0.9 L0.42 0.68 L0 0.26 L-0.42 0.68 L-0.2 0.9 L-0.9 0.9 L-0.9 0.2 L-0.68 0.42 L-0.26 0 L-0.68 -0.42 L-0.9 -0.2 Z"},"encoding":{"x":{"datum":141.5,"type":"quantitative","axis":null,"scale":{"domain":[0,278],"nice":false}},"y":{"datum":784,"type":"quantitative","axis":null,"scale":{"domain":[0,808],"range":[0,808],"nice":false}}}},
{"data":{"values":[{"label":"?"}]},"mark":{"type":"text","font":"Liberation Sans","fontSize":38,"fontWeight":"bold","color":"#ffffff"},"encoding":{"x":{"datum":195.5,"type":"quantitative","axis":null,"scale":{"domain":[0,278],"nice":false}},"y":{"field":"label","type":"nominal","axis":null,"scale":{"type":"point","padding":0,"range":[784,784]}},"text":{"field":"label"}}},
{"data":{"name":"unit"},"mark":{"type":"point","filled":true,"size":1100,"opacity":1,"color":"#ffffff","shape":"cross","angle":45},"encoding":{"x":{"datum":249,"type":"quantitative","axis":null,"scale":{"domain":[0,278],"nice":false}},"y":{"datum":784,"type":"quantitative","axis":null,"scale":{"domain":[0,808],"range":[0,808],"nice":false}}}}
]},
{"spacing":11,"vconcat":[
{"width":1091,"height":188,"view":{"fill":"#808080"},
"resolve":{"scale":{"y":"independent"}},
"layer":[
{"layer":[
{"data":{"name":"unit"},"mark":{"type":"rect","fill":"#a9a9a9"},"encoding":{"x":{"datum":-1,"type":"quantitative","axis":null,"scale":{"domain":[-19.44,137.76],"nice":false}},"x2":{"datum":100},"y":{"datum":-50,"type":"quantitative","scale":{"domain":[-144.44,-40],"nice":false},"axis":null},"y2":{"datum":-130}}},
{"data":{"values":[{"v":-50},{"v":-66},{"v":-82},{"v":-98},{"v":-114},{"v":-130}]},"mark":{"type":"rule","stroke":"#222222"},"encoding":{"x":{"datum":-2.73,"type":"quantitative","axis":null},"x2":{"datum":100},"y":{"field":"v","type":"quantitative","axis":null}}},
{"data":{"values":[{"v":-50,"tick":"-50"},{"v":-66,"tick":"-66"},{"v":-82,"tick":"-82"},{"v":-98,"tick":"-98"},{"v":-114,"tick":"-114"},{"v":-130,"tick":"-130"}]},"mark":{"type":"text","align":"right","font":"Liberation Sans","fontSize":15.5,"color":"#1f1f1f"},"encoding":{"x":{"datum":-3.09,"type":"quantitative","axis":null},"y":{"field":"v","type":"quantitative","axis":null},"text":{"field":"tick"}}},
{"data":{"values":[{"unit":"dBm"}]},"mark":{"type":"text","angle":270,"font":"Liberation Sans","fontSize":13.5,"color":"#1f1f1f"},"encoding":{"x":{"datum":-12.24,"type":"quantitative","axis":null},"y":{"datum":-88.9,"type":"quantitative","axis":null},"text":{"field":"unit"}}},
{"data":{"name":"gridTimes"},"mark":{"type":"rule","stroke":"#222222"},"encoding":{"x":{"field":"t","type":"quantitative","axis":null},"y":{"datum":-50,"type":"quantitative","axis":null},"y2":{"datum":-131}}},
{"data":{"name":"signal"},"mark":{"type":"area","color":"#ffa500","interpolate":"cardinal"},"encoding":{"x":{"field":"t","type":"quantitative","axis":null},"y":{"field":"rssi","type":"quantitative","axis":null},"y2":{"datum":-50}}},
{"data":{"name":"signal"},"mark":{"type":"area","color":"#ff0000","interpolate":"cardinal"},"encoding":{"x":{"field":"t","type":"quantitative","axis":null},"y":{"field":"rsrp","type":"quantitative","axis":null},"y2":{"field":"rssi"}}},
{"data":{"name":"signal"},"mark":{"type":"line","stroke":"#333333","strokeWidth":1,"opacity":0.7,"interpolate":"cardinal"},"encoding":{"x":{"field":"t","type":"quantitative","axis":null},"y":{"field":"rsrp","type":"quantitative","axis":null}}},
{"data":{"name":"signal"},"mark":{"type":"line","stroke":"#333333","strokeWidth":1,"opacity":0.7,"interpolate":"cardinal"},"encoding":{"x":{"field":"t","type":"quantitative","axis":null},"y":{"field":"rssi","type":"quantitative","axis":null}}},
{"data":{"values":[{"caption":"Reference Signal Received Power (RSRP) and Reference Signal Strength Indicator (RSSI)"}]},"mark":{"type":"text","font":"Liberation Sans","fontSize":13.8,"color":"#1f1f1f"},"encoding":{"x":{"datum":49.43,"type":"quantitative","axis":null},"y":{"datum":-135.3,"type":"quantitative","axis":null},"text":{"field":"caption"}}}
]},
{"layer":[
{"data":{"name":"unit"},"mark":{"type":"rect","fill":"#ffffff"},"encoding":{"x":{"datum":103.32,"type":"quantitative","axis":null},"x2":{"datum":130.7},"y":{"datum":-0.33,"type":"quantitative","axis":null,"scale":{"domain":[1,10],"range":[30,165],"nice":false}},"y2":{"datum":7.87}}},
{"data":{"name":"unit"},"mark":{"type":"rect","fill":"#ff0000","stroke":"#222222"},"encoding":{"x":{"datum":104.98,"type":"quantitative","axis":null},"x2":{"datum":109.09},"y":{"datum":1.67,"type":"quantitative","axis":null},"y2":{"datum":2.47}}},
{"data":{"name":"unit"},"mark":{"type":"rect","fill":"#ffa500","stroke":"#222222"},"encoding":{"x":{"datum":104.98,"type":"quantitative","axis":null},"x2":{"datum":109.09},"y":{"datum":5.38,"type":"quantitative","axis":null},"y2":{"datum":6.15}}},
{"data":{"values":[{"row":1,"line":"RSRP = -116 dBm"},{"row":2,"line":"Max: -115 - Min: -117"},{"row":3,"line":"Average: -115,80"},{"row":4.67,"line":"RSSI = -83 dBm"},{"row":5.67,"line":"Max: -83 - Min: -83"},{"row":6.67,"line":"Average: -83,00"}]},"mark":{"type":"text","align":"left","font":"Liberation Sans","fontSize":13.7,"color":"#2a2a2a"},"encoding":{"x":{"datum":109.95,"type":"quantitative","axis":null},"y":{"field":"row","type":"quantitative","axis":null},"text":{"field":"line"}}}
]}
]},
{"width":1091,"height":187,"view":{"fill":"#808080"},
"resolve":{"scale":{"y":"independent"}},
"layer":[
{"layer":[
{"data":{"name":"unit"},"mark":{"type":"rect","fill":"#a9a9a9"},"encoding":{"x":{"datum":-1,"type":"quantitative","axis":null,"scale":{"domain":[-17.38,137.15],"nice":false}},"x2":{"datum":100.05},"y":{"datum":0,"type":"quantitative","scale":{"domain":[-17.596,1.817],"nice":false},"axis":null},"y2":{"datum":-15}}},
{"data":{"values":[{"v":0},{"v":-3},{"v":-6},{"v":-9},{"v":-12},{"v":-15}]},"mark":{"type":"rule","stroke":"#222222"},"encoding":{"x":{"datum":-2.22,"type":"quantitative","axis":null},"x2":{"datum":100.05},"y":{"field":"v","type":"quantitative","axis":null}}},
{"data":{"values":[{"v":0,"tick":"0"},{"v":-3,"tick":"-3"},{"v":-6,"tick":"-6"},{"v":-9,"tick":"-9"},{"v":-12,"tick":"-12"},{"v":-15,"tick":"-15"}]},"mark":{"type":"text","align":"right","font":"Liberation Sans","fontSize":15.5,"color":"#1f1f1f"},"encoding":{"x":{"datum":-2.93,"type":"quantitative","axis":null},"y":{"field":"v","type":"quantitative","axis":null},"text":{"field":"tick"}}},
{"data":{"values":[{"unit":"dB"}]},"mark":{"type":"text","angle":270,"font":"Liberation Sans","fontSize":13.5,"color":"#1f1f1f"},"encoding":{"x":{"datum":-10.3,"type":"quantitative","axis":null},"y":{"datum":-7.53,"type":"quantitative","axis":null},"text":{"field":"unit"}}},
{"data":{"name":"gridTimes"},"mark":{"type":"rule","stroke":"#222222"},"encoding":{"x":{"field":"t","type":"quantitative","axis":null},"y":{"datum":0,"type":"quantitative","axis":null},"y2":{"datum":-15.4}}},
{"data":{"name":"rsrqBands"},"transform":[{"flatten":["t","rsrq"]}],"mark":{"type":"area","interpolate":"monotone"},"encoding":{"x":{"field":"t","type":"quantitative","axis":null},"y":{"field":"rsrq","type":"quantitative","axis":null,"stack":null},"y2":{"datum":0},"color":{"field":"grade","type":"nominal","legend":null,"scale":{"domain":["poor","fair","good"],"range":["#ff0000","#ffa500","#228b22"]}},"detail":{"field":"band"}}},
{"data":{"name":"rsrq"},"mark":{"type":"line","stroke":"#222222","strokeWidth":1,"interpolate":"monotone"},"encoding":{"x":{"field":"t","type":"quantitative","axis":null},"y":{"field":"rsrq","type":"quantitative","axis":null}}},
{"data":{"values":[{"caption":"Reference Signal Received Quality (RSRQ)"}]},"mark":{"type":"text","font":"Liberation Sans","fontSize":13.9,"color":"#1f1f1f"},"encoding":{"x":{"datum":49.55,"type":"quantitative","axis":null},"y":{"datum":-15.94,"type":"quantitative","axis":null},"text":{"field":"caption"}}}
]},
{"layer":[
{"data":{"name":"unit"},"mark":{"type":"rect","fill":"#ffffff"},"encoding":{"x":{"datum":103.3,"type":"quantitative","axis":null},"x2":{"datum":127.1},"y":{"datum":0.13,"type":"quantitative","axis":null,"scale":{"domain":[1,10],"range":[23,158],"nice":false}},"y2":{"datum":4.13}}},
{"data":{"name":"unit"},"mark":{"type":"rect","fill":"#ff0000","stroke":"#222222"},"encoding":{"x":{"datum":104.93,"type":"quantitative","axis":null},"x2":{"datum":109},"y":{"datum":1.73,"type":"quantitative","axis":null},"y2":{"datum":2.53}}},
{"data":{"values":[{"row":1,"line":"RSRQ = -15 dB"},{"row":2,"line":"Max: -9 - Min: -15"},{"row":3,"line":"Average: -12,90"}]},"mark":{"type":"text","align":"left","font":"Liberation Sans","fontSize":13.7,"color":"#2a2a2a"},"encoding":{"x":{"datum":109.8,"type":"quantitative","axis":null},"y":{"field":"row","type":"quantitative","axis":null},"text":{"field":"line"}}}
]}
]},
{"width":1091,"height":187,"view":{"fill":"#808080"},
"resolve":{"scale":{"y":"independent"}},
"layer":[
{"layer":[
{"data":{"name":"unit"},"mark":{"type":"rect","fill":"#a9a9a9"},"encoding":{"x":{"datum":-1,"type":"quantitative","axis":null,"scale":{"domain":[-19.44,137.76],"nice":false}},"x2":{"datum":100},"y":{"datum":-4.8,"type":"quantitative","scale":{"domain":[-5.2722,-4.7528],"nice":false},"axis":null},"y2":{"datum":-5.2}}},
{"data":{"values":[{"v":-4.8},{"v":-5},{"v":-5.2}]},"mark":{"type":"rule","stroke":"#222222"},"encoding":{"x":{"datum":-2.73,"type":"quantitative","axis":null},"x2":{"datum":100},"y":{"field":"v","type":"quantitative","axis":null}}},
{"data":{"values":[{"v":-4.8,"tick":"-4,8"},{"v":-5,"tick":"-5"},{"v":-5.2,"tick":"-5,2"}]},"mark":{"type":"text","align":"right","font":"Liberation Sans","fontSize":15.5,"color":"#1f1f1f"},"encoding":{"x":{"datum":-3.09,"type":"quantitative","axis":null},"y":{"field":"v","type":"quantitative","axis":null},"text":{"field":"tick"}}},
{"data":{"values":[{"unit":"dB"}]},"mark":{"type":"text","angle":270,"font":"Liberation Sans","fontSize":13.5,"color":"#1f1f1f"},"encoding":{"x":{"datum":-12.24,"type":"quantitative","axis":null},"y":{"datum":-5,"type":"quantitative","axis":null},"text":{"field":"unit"}}},
{"data":{"name":"gridTimes"},"mark":{"type":"rule","stroke":"#222222"},"encoding":{"x":{"field":"t","type":"quantitative","axis":null},"y":{"datum":-4.8,"type":"quantitative","axis":null},"y2":{"datum":-5.208}}},
{"data":{"name":"signal"},"mark":{"type":"area","color":"#ff0000"},"encoding":{"x":{"field":"t","type":"quantitative","axis":null},"y":{"field":"sinr","type":"quantitative","axis":null},"y2":{"datum":-4.8}}},
{"data":{"name":"signal"},"mark":{"type":"line","stroke":"#222222","strokeWidth":1},"encoding":{"x":{"field":"t","type":"quantitative","axis":null},"y":{"field":"sinr","type":"quantitative","axis":null}}},
{"data":{"values":[{"caption":"Signal to Interference & Noise Ratio (SINR)"}]},"mark":{"type":"text","font":"Liberation Sans","fontSize":13.8,"color":"#1f1f1f"},"encoding":{"x":{"datum":49.43,"type":"quantitative","axis":null},"y":{"datum":-5.2278,"type":"quantitative","axis":null},"text":{"field":"caption"}}}
]},
{"layer":[
{"data":{"name":"unit"},"mark":{"type":"rect","fill":"#ffffff"},"encoding":{"x":{"datum":103.32,"type":"quantitative","axis":null},"x2":{"datum":126.38},"y":{"datum":0.13,"type":"quantitative","axis":null,"scale":{"domain":[1,10],"range":[23,158],"nice":false}},"y2":{"datum":4.13}}},
{"data":{"name":"unit"},"mark":{"type":"rect","fill":"#ff0000","stroke":"#222222"},"encoding":{"x":{"datum":104.98,"type":"quantitative","axis":null},"x2":{"datum":109.09},"y":{"datum":1.73,"type":"quantitative","axis":null},"y2":{"datum":2.53}}},
{"data":{"values":[{"row":1,"line":"SINR = -5 dB"},{"row":2,"line":"Max: -5 - Min: -5"},{"row":3,"line":"Average: -5,00"}]},"mark":{"type":"text","align":"left","font":"Liberation Sans","fontSize":13.7,"color":"#2a2a2a"},"encoding":{"x":{"datum":109.95,"type":"quantitative","axis":null},"y":{"field":"row","type":"quantitative","axis":null},"text":{"field":"line"}}}
]}
]},
{"width":1091,"height":213,"view":{"fill":"#808080"},
"resolve":{"scale":{"y":"independent"}},
"layer":[
{"layer":[
{"data":{"name":"unit"},"mark":{"type":"rect","fill":"#a9a9a9"},"encoding":{"x":{"datum":-1,"type":"quantitative","axis":null,"scale":{"domain":[-19.44,137.76],"nice":false}},"x2":{"datum":100},"y":{"datum":200,"type":"quantitative","scale":{"domain":[-32,220.5],"nice":false},"axis":null},"y2":{"datum":0}}},
{"data":{"values":[{"v":0},{"v":50},{"v":100},{"v":150},{"v":200}]},"mark":{"type":"rule","stroke":"#222222"},"encoding":{"x":{"datum":-2.58,"type":"quantitative","axis":null},"x2":{"datum":100},"y":{"field":"v","type":"quantitative","axis":null}}},
{"data":{"values":[{"v":0,"tick":"0"},{"v":50,"tick":"50"},{"v":100,"tick":"100"},{"v":150,"tick":"150"},{"v":200,"tick":"200"}]},"mark":{"type":"text","align":"right","font":"Liberation Sans","fontSize":15.5,"color":"#1f1f1f"},"encoding":{"x":{"datum":-3.16,"type":"quantitative","axis":null},"y":{"field":"v","type":"quantitative","axis":null},"text":{"field":"tick"}}},
{"data":{"values":[{"unit":"Mb/s"}]},"mark":{"type":"text","angle":270,"font":"Liberation Sans","fontSize":13.5,"color":"#1f1f1f"},"encoding":{"x":{"datum":-12.24,"type":"quantitative","axis":null},"y":{"datum":102,"type":"quantitative","axis":null},"text":{"field":"unit"}}},
{"data":{"name":"gridTimes"},"mark":{"type":"rule","stroke":"#222222"},"encoding":{"x":{"field":"t","type":"quantitative","axis":null},"y":{"datum":200,"type":"quantitative","axis":null},"y2":{"datum":-4}}},
{"data":{"values":[{"t":52.75,"upload":0.39},{"t":60.4,"upload":0.39}]},"mark":{"type":"line","stroke":"#ff0000","strokeWidth":1,"opacity":0.45},"encoding":{"x":{"field":"t","type":"quantitative","axis":null},"y":{"field":"upload","type":"quantitative","axis":null}}},
{"data":{"name":"traffic"},"mark":{"type":"line","stroke":"#008000","strokeWidth":3.4,"interpolate":"cardinal"},"encoding":{"x":{"field":"t","type":"quantitative","axis":null},"y":{"field":"dl1","type":"quantitative","axis":null}}},
{"data":{"name":"traffic"},"mark":{"type":"line","stroke":"#32cd32","strokeWidth":3.4,"interpolate":"cardinal"},"encoding":{"x":{"field":"t","type":"quantitative","axis":null},"y":{"field":"dl2","type":"quantitative","axis":null}}},
{"data":{"name":"traffic"},"mark":{"type":"line","stroke":"#ff0000","strokeWidth":4,"interpolate":"cardinal"},"encoding":{"x":{"field":"t","type":"quantitative","axis":null},"y":{"field":"ul","type":"quantitative","axis":null}}},
{"data":{"values":[{"caption":"Download/Upload"}]},"mark":{"type":"text","font":"Liberation Sans","fontSize":13.8,"color":"#1f1f1f"},"encoding":{"x":{"datum":49.43,"type":"quantitative","axis":null},"y":{"datum":-11.9,"type":"quantitative","axis":null},"text":{"field":"caption"}}}
]},
{"layer":[
{"data":{"name":"unit"},"mark":{"type":"rect","fill":"#ffffff"},"encoding":{"x":{"datum":103.32,"type":"quantitative","axis":null},"x2":{"datum":137.76},"y":{"datum":0.2,"type":"quantitative","axis":null,"scale":{"domain":[1,10],"range":[23,158],"nice":false}},"y2":{"datum":10.87}}},
{"data":{"name":"unit"},"mark":{"type":"rect","fill":"#008000","stroke":"#222222"},"encoding":{"x":{"datum":104.98,"type":"quantitative","axis":null},"x2":{"datum":109.09},"y":{"datum":1.69,"type":"quantitative","axis":null},"y2":{"datum":2.47}}},
{"data":{"name":"unit"},"mark":{"type":"rect","fill":"#ff0000"},"encoding":{"x":{"datum":104.98,"type":"quantitative","axis":null},"x2":{"datum":109.09},"y":{"datum":4.85,"type":"quantitative","axis":null},"y2":{"datum":5.6}}},
{"data":{"name":"unit"},"mark":{"type":"rule","stroke":"#008000","strokeWidth":3},"encoding":{"x":{"datum":104.98,"type":"quantitative","axis":null},"x2":{"datum":109.09},"y":{"datum":7.4,"type":"quantitative","axis":null}}},
{"data":{"name":"unit"},"mark":{"type":"rule","stroke":"#32cd32","strokeWidth":3},"encoding":{"x":{"datum":104.98,"type":"quantitative","axis":null},"x2":{"datum":109.09},"y":{"datum":8.57,"type":"quantitative","axis":null}}},
{"data":{"name":"unit"},"mark":{"type":"rule","stroke":"#ff0000","strokeWidth":3},"encoding":{"x":{"datum":104.98,"type":"quantitative","axis":null},"x2":{"datum":109.09},"y":{"datum":9.73,"type":"quantitative","axis":null}}},
{"data":{"values":[{"row":1,"line":"DownLoad = 0,00 Mbps"},{"row":2,"line":"Max: 0,06 - Min: 0,00"},{"row":3,"line":"Average: 0,02 Mbps"},{"row":4.2,"line":"UpLoad = 0,00 Mbps"},{"row":5.2,"line":"Max: 0,39 - Min: 0,00"},{"row":6.2,"line":"Average: 0,05 Mbps"},{"row":7.4,"line":"DL1 Max (MIMO) = 50,4 Mbps"},{"row":8.57,"line":"DL2 Max (MIMO) = 50,4 Mbps"},{"row":9.73,"line":"UL Max = 50,4 Mbps"}]},"mark":{"type":"text","align":"left","font":"Liberation Sans","fontSize":13.7,"color":"#2a2a2a"},"encoding":{"x":{"datum":109.95,"type":"quantitative","axis":null},"y":{"field":"row","type":"quantitative","axis":null},"text":{"field":"line"}}},
{"data":{"name":"unit"},"mark":{"type":"rect","fill":"#99b4d1"},"encoding":{"x":{"datum":113.7,"type":"quantitative","axis":null},"x2":{"datum":137.76},"y":{"datum":11.27,"type":"quantitative","axis":null},"y2":{"datum":12.93}}},
{"data":{"values":[{"stamp":"18.08.2024 00:14:13"}]},"mark":{"type":"text","font":"Liberation Sans","fontSize":15,"color":"#2a2a2a"},"encoding":{"x":{"datum":126.52,"type":"quantitative","axis":null},"y":{"datum":12.2,"type":"quantitative","axis":null},"text":{"field":"stamp"}}}
]}
]}
]}
]},
{"spacing":7,"hconcat":[
{"width":4,"height":26,"data":{"values":[{"label":""}]},"mark":{"type":"text"},"encoding":{"text":{"field":"label"}}},
{"width":113,"height":26,"view":{"fill":"#bfcddb"},"data":{"values":[{"label":"LTE"}]},"mark":{"type":"text","fontSize":14,"dy":2,"color":"#1a1a1a"},"encoding":{"text":{"field":"label"}}},
{"width":38,"height":26,"view":{"fill":"#bfcddb"},"data":{"values":[{"label":"03"}]},"mark":{"type":"text","fontSize":14,"dy":2,"color":"#1a1a1a"},"encoding":{"text":{"field":"label"}}},
{"width":132,"height":26,"view":{"fill":"#bfcddb"},"data":{"values":[{"label":"3FFFFFFF"}]},"mark":{"type":"text","fontSize":14,"dy":2,"color":"#1a1a1a"},"encoding":{"text":{"field":"label"}}},
{"width":164,"height":26,"view":{"fill":"#bfcddb"},"data":{"values":[{"label":"40"}]},"mark":{"type":"text","fontSize":14,"dy":2,"color":"#1a1a1a"},"encoding":{"text":{"field":"label"}}},
{"width":76,"height":26,"view":{"fill":"#bfcddb"},"data":{"values":[{"label":"-59 ms"}]},"mark":{"type":"text","fontSize":14,"dy":2,"color":"#ff0000"},"encoding":{"text":{"field":"label"}}},
{"width":176,"height":26,"view":{"fill":"#bfcddb"},"data":{"values":[{"label":"Last message:"}]},"mark":{"type":"text","align":"left","fontSize":14,"dy":2,"dx":-84,"color":"#1a1a1a"},"encoding":{"text":{"field":"label"}}},
{"width":160,"height":26,"view":{"fill":"#bfcddb"},"data":{"values":[{"label":"Ok"}]},"mark":{"type":"text","align":"left","fontSize":14,"dy":2,"dx":-76,"color":"#1a1a1a"},"encoding":{"text":{"field":"label"}}},
{"width":461,"height":26,"view":{"fill":"#bfcddb"},"data":{"values":[{"label":""}]},"mark":{"type":"text"},"encoding":{"text":{"field":"label"}}}
]}
]
}
